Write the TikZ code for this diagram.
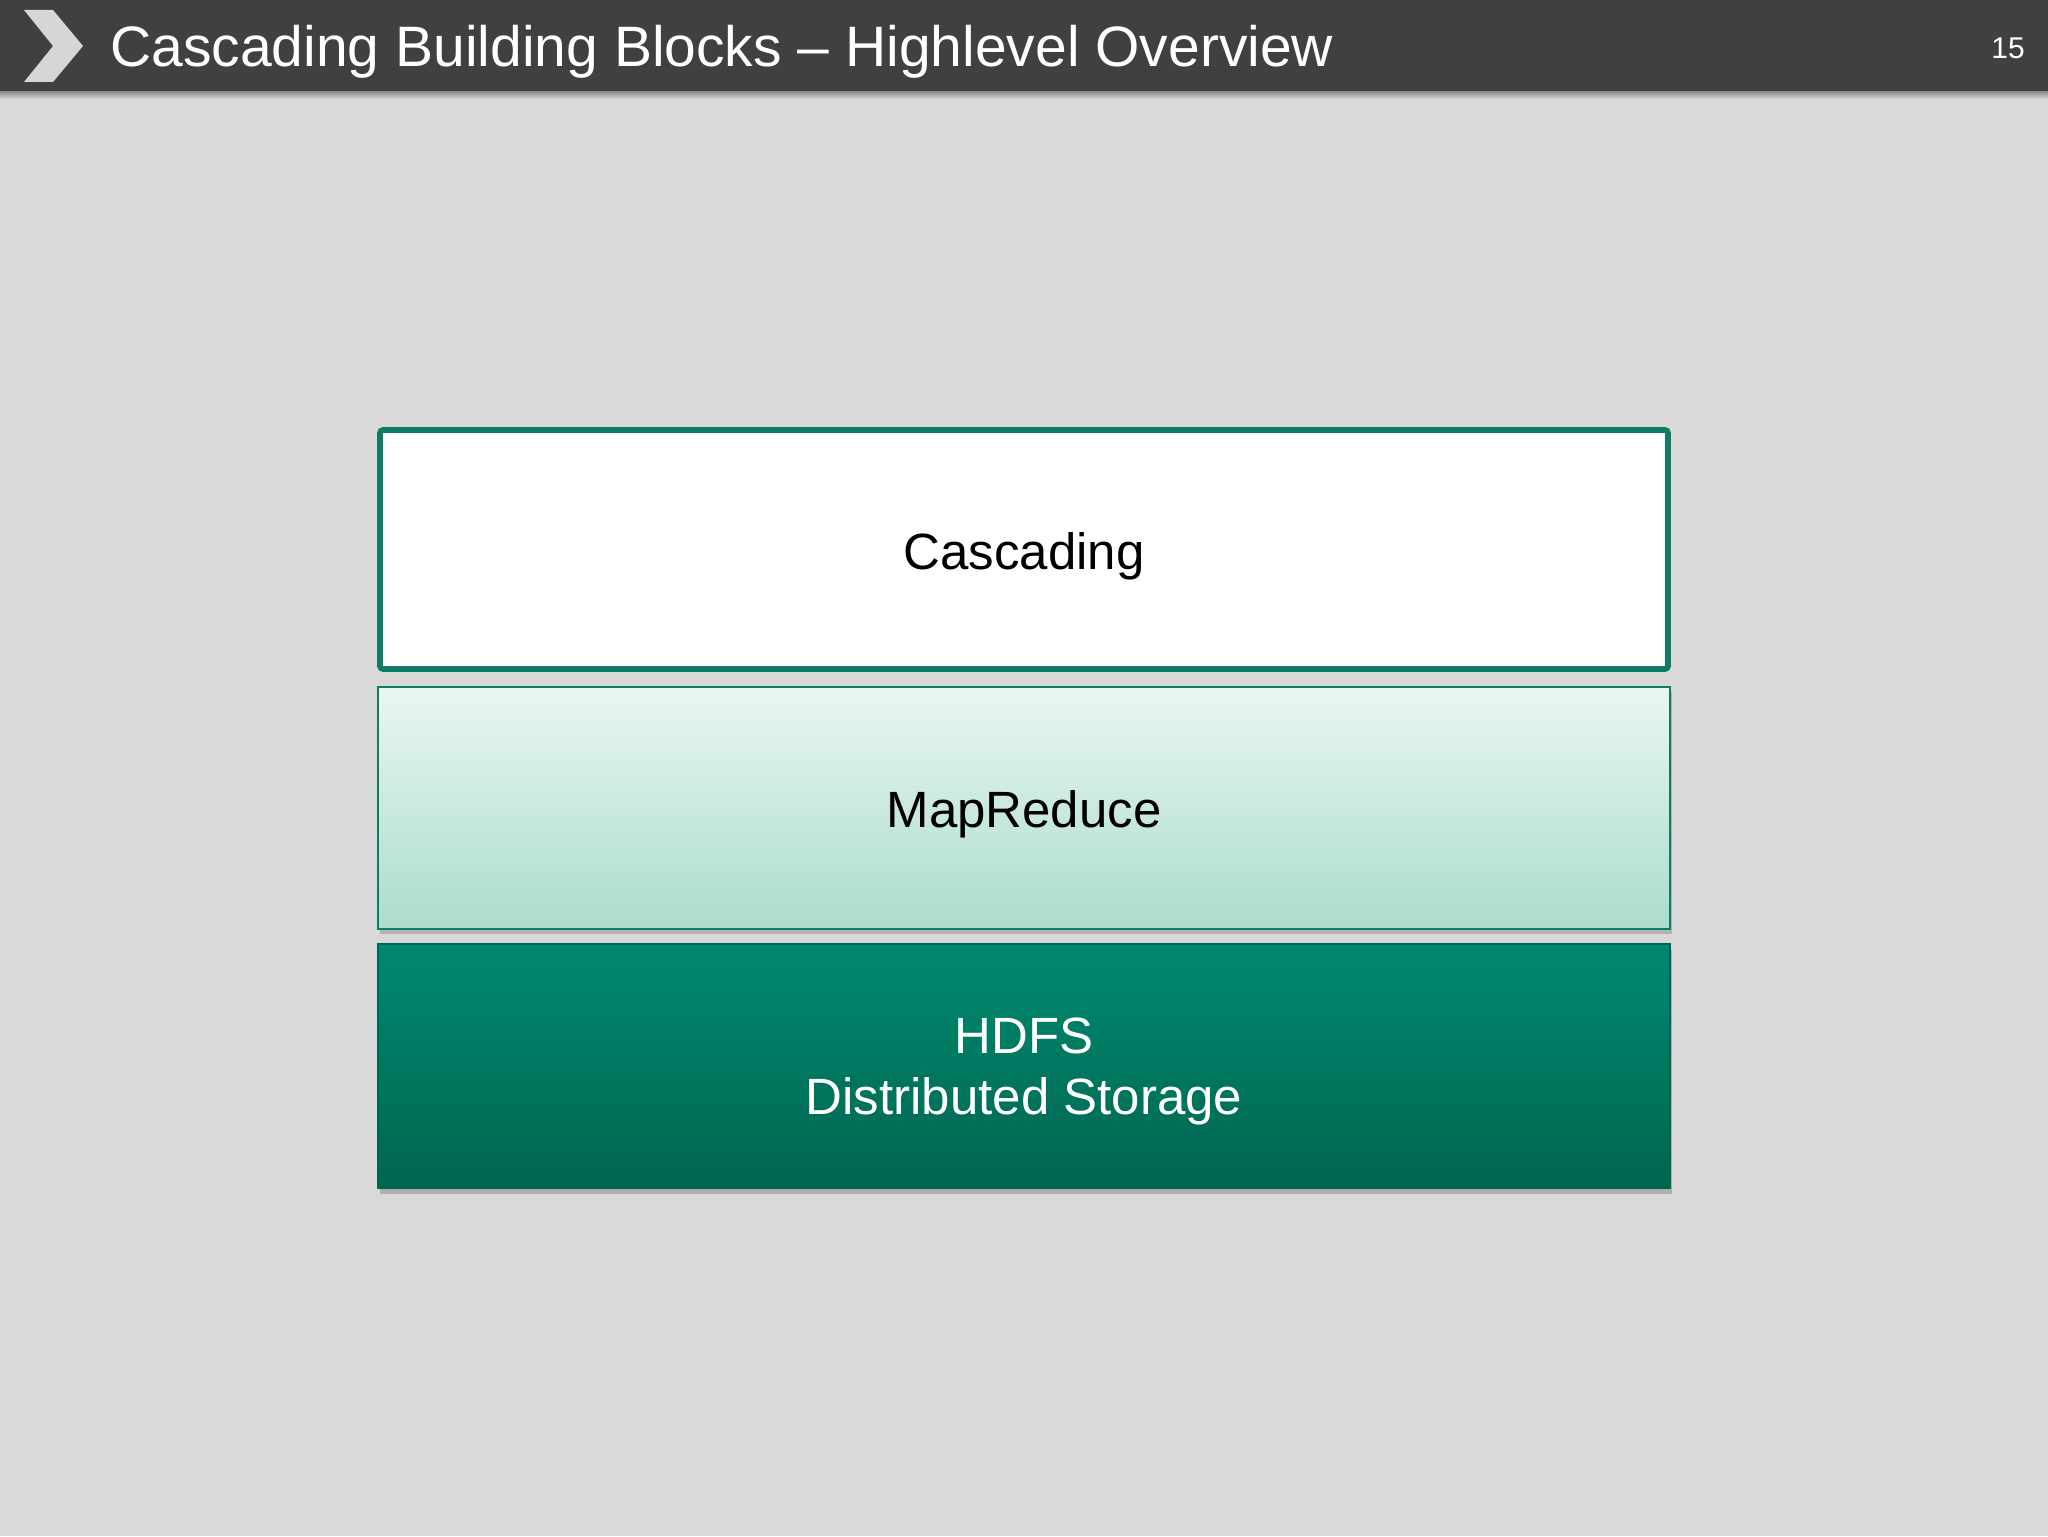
\documentclass[tikz,border=0pt]{standalone}
\usepackage{fontspec}
\setmainfont{Liberation Sans}
\usetikzlibrary{shadows}
\definecolor{bg}{HTML}{D9D9D9}
\definecolor{hdr}{HTML}{404040}
\definecolor{chev}{HTML}{D6D6D6}
\definecolor{tealline}{HTML}{0E7A68}
\definecolor{mrtop}{HTML}{EAF6F0}
\definecolor{mrbot}{HTML}{ABDCCE}
\definecolor{hdtop}{HTML}{008A6F}
\definecolor{hdbot}{HTML}{006551}
\tikzset{
  boxlabel/.style={inner sep=0pt, align=center, font=\fontsize{25.5}{30.5}\selectfont},
  cascbox/.style={draw=tealline, line width=2.8pt, fill=white, rounded corners=1.5pt,
    minimum width=644pt, minimum height=119.5pt},
  mrbox/.style={draw=tealline, line width=0.8pt, top color=mrtop, bottom color=mrbot,
    minimum width=646pt, minimum height=121pt,
    drop shadow={shadow xshift=0.8pt, shadow yshift=-2.5pt, fill=black!45, opacity=0.5}},
  hdbox/.style={draw=hdbot, line width=0.8pt, top color=hdtop, bottom color=hdbot,
    minimum width=646pt, minimum height=122pt,
    drop shadow={shadow xshift=0.8pt, shadow yshift=-2.8pt, fill=black!45, opacity=0.55}},
}
\begin{document}
\begin{tikzpicture}[x=0.5pt,y=-0.5pt]
\useasboundingbox (0,0) rectangle (2048,1536);
\fill[bg] (0,0) rectangle (2048,1536);
\shade[top color=black!50, bottom color=bg] (0,90) rectangle (2048,99);
\fill[hdr] (0,0) rectangle (2048,91);
\fill[chev] (24,10) -- (53,10) -- (83,46) -- (53,82) -- (24,82) -- (53,46) -- cycle;
\node[anchor=west, inner sep=0pt, text=white, font=\fontsize{28.5}{34}\selectfont] (title) at (110,52) {Cascading Building Blocks – Highlevel Overview};
\node[anchor=center, inner sep=0pt, text=white, font=\fontsize{15}{18}\selectfont] (pagenum) at (2008,48) {15};

\node[hdbox] (hdfs) at (1024,1066) {};
\node[mrbox] (mapreduce) at (1024,808) {};
\node[cascbox] (cascading) at (1024,549.5) {};

\node[boxlabel, text=white] (hdfstext) at ([yshift=-2.8pt]hdfs.center) {HDFS\\Distributed Storage};
\node[boxlabel, text=black] (mrtext) at ([yshift=-3.2pt]mapreduce.center) {MapReduce};
\node[boxlabel, text=black] (casctext) at ([yshift=-3.2pt]cascading.center) {Cascading};
\end{tikzpicture}
\end{document}
